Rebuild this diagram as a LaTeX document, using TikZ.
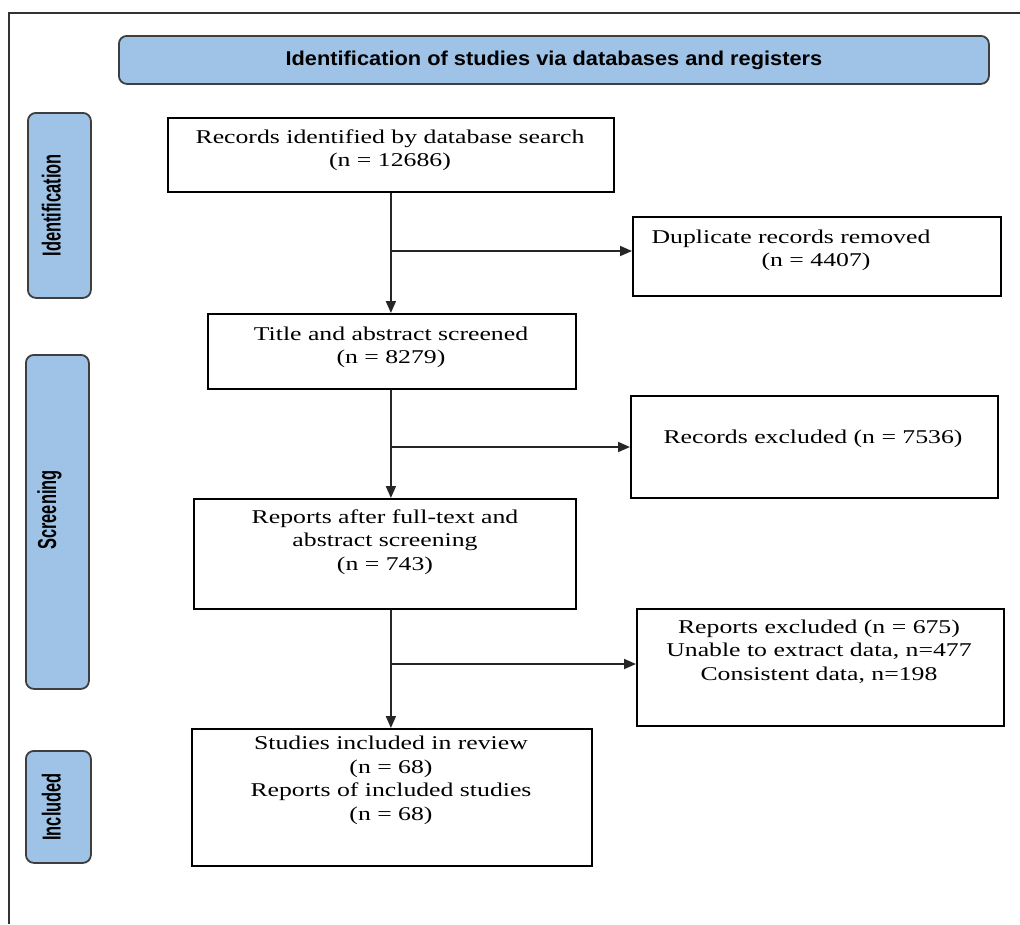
\documentclass[tikz,border=0pt]{standalone}
\usepackage{fontspec}
\setmainfont[FakeStretch=1.32]{Liberation Serif}
\newfontfamily\headfont[FakeStretch=1.09]{Liberation Sans}
\newfontfamily\sidefont[FakeStretch=0.82]{Liberation Sans}
\usetikzlibrary{arrows.meta}
\definecolor{stageblue}{RGB}{158,195,230}
\definecolor{stageedge}{RGB}{62,62,62}
\tikzset{
  flowbox/.style={draw, line width=1.8pt, anchor=north west, inner sep=0pt},
  flowtext/.style={anchor=north, align=center, inner sep=0pt, font=\fontsize{19.5}{23.5}\selectfont},
  stagebox/.style={draw=stageedge, fill=stageblue, line width=1.8pt, rounded corners=8pt, anchor=north west, inner sep=0pt},
  stagetext/.style={rotate=90, inner sep=0pt, font=\sidefont\bfseries\fontsize{20}{20}\selectfont},
  flowarrow/.style={line width=1.8pt, draw=black!85, -{Triangle[length=12pt,width=10pt]}},
}
\begin{document}
\begin{tikzpicture}[x=1pt,y=-1pt]
\useasboundingbox (0,0) rectangle (1020,924);
\draw[line width=1.8pt, black!80] (9,924) -- (9,13) -- (1020,13);

% header and stages
\node[stagebox, minimum width=870pt, minimum height=48pt, font=\headfont\bfseries\fontsize{20}{20}\selectfont] (head) at (118,35) {Identification of studies via databases and registers};
\node[stagebox, minimum width=63pt, minimum height=185pt] (sident) at (27,112) {};
\node[stagebox, minimum width=63pt, minimum height=334pt] (sscreen) at (25,354) {};
\node[stagebox, minimum width=65pt, minimum height=112pt] (sincl) at (25,750) {};
\node[stagetext] (tident) at ([xshift=-8pt]sident.center) {\scalebox{1}[1.3]{Identification}};
\node[stagetext] (tscreen) at ([xshift=-8pt,yshift=12pt]sscreen.center) {\scalebox{1}[1.3]{Screening}};
\node[stagetext] (tincl) at ([xshift=-7pt]sincl.center) {\scalebox{1}[1.3]{Included}};

% boxes
\node[flowbox, minimum width=446pt, minimum height=74pt] (b1) at (167,117) {};
\node[flowbox, minimum width=368pt, minimum height=79pt] (b2) at (632,216) {};
\node[flowbox, minimum width=368pt, minimum height=75pt] (b3) at (207,313) {};
\node[flowbox, minimum width=367pt, minimum height=102pt] (b4) at (630,395) {};
\node[flowbox, minimum width=382pt, minimum height=110pt] (b5) at (193,498) {};
\node[flowbox, minimum width=367pt, minimum height=117pt] (b6) at (636,608) {};
\node[flowbox, minimum width=400pt, minimum height=137pt] (b7) at (191,728) {};

\node[flowtext] (t1) at (390,129.5) {Records identified by database search\\(n = 12686)};
\node[flowtext] (t2) at (791,229.5) {Duplicate records removed\\\hspace*{50pt}(n = 4407)};
\node[flowtext] (t3) at (391,326.5) {Title and abstract screened\\(n = 8279)};
\node[flowtext] (t4) at (813,429.5) {Records excluded (n = 7536)};
\node[flowtext] (t5) at (385,509.5) {Reports after full-text and\\abstract screening\\(n = 743)};
\node[flowtext] (t6) at (819,619.5) {Reports excluded (n = 675)\\Unable to extract data, n=477\\Consistent data, n=198};
\node[flowtext] (t7) at (391,736) {Studies included in review\\(n = 68)\\Reports of included studies\\(n = 68)};

% arrows
\coordinate (j1) at (390,251);
\coordinate (j2) at (390,447);
\coordinate (j3) at (390,664);
\draw[flowarrow] (b1.south) -- (b1.south |- b3.north);
\draw[flowarrow] (j1) -- (j1 -| b2.west);
\draw[flowarrow] (b1.south |- b3.south) -- (b1.south |- b5.north);
\draw[flowarrow] (j2) -- (j2 -| b4.west);
\draw[flowarrow] (b1.south |- b5.south) -- (b1.south |- b7.north);
\draw[flowarrow] (j3) -- (j3 -| b6.west);
\end{tikzpicture}
\end{document}
